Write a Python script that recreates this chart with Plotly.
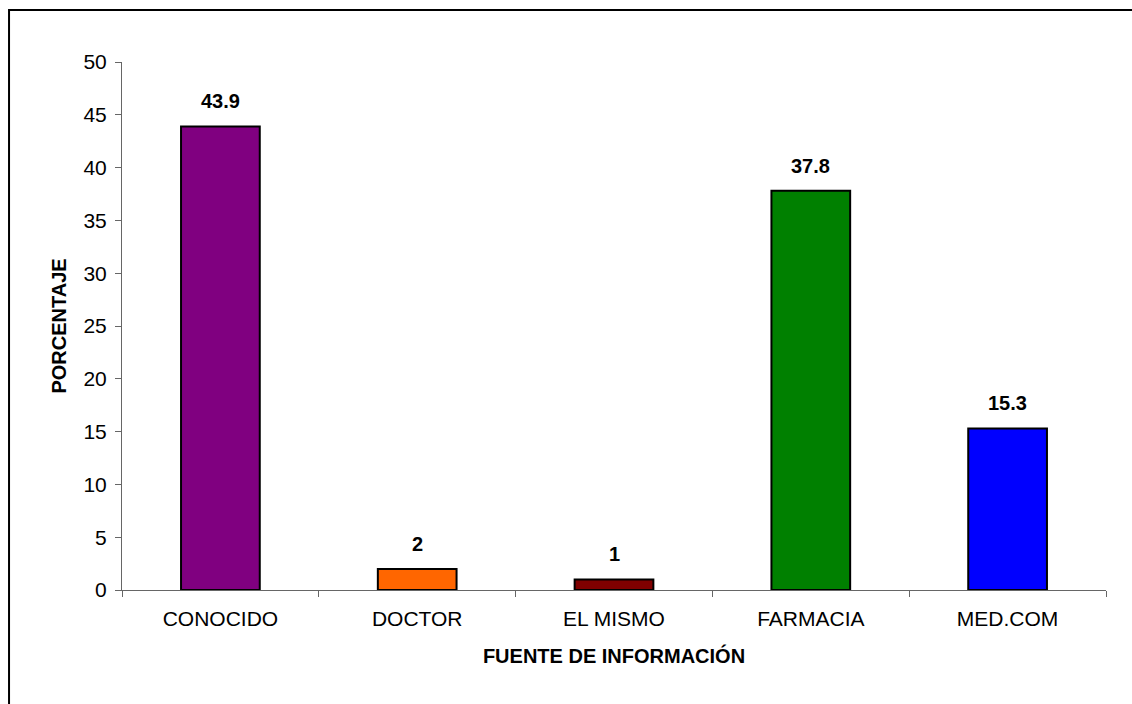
import plotly.graph_objects as go

# Information sources and their share (%)
categorias = ["CONOCIDO", "DOCTOR", "EL MISMO", "FARMACIA", "MED.COM"]
porcentajes = [43.9, 2, 1, 37.8, 15.3]
colores = ["#800080", "#FF6600", "#800000", "#008000", "#0000FF"]
y_ticks = [0, 5, 10, 15, 20, 25, 30, 35, 40, 45, 50]

FONT = "Liberation Sans, Arial, sans-serif"
FS = 21

fig = go.Figure(
    go.Bar(
        x=categorias,
        y=porcentajes,
        marker=dict(color=colores, line=dict(color="black", width=2)),
        width=0.40,
        hoverinfo="x+y",
    )
)

# Value labels above each bar
for cat, val in zip(categorias, porcentajes):
    fig.add_annotation(
        x=cat, y=val, text=f"<b>{val:g}</b>", showarrow=False,
        yanchor="bottom", yshift=12,
        font=dict(family=FONT, size=FS - 1, color="black"),
    )

# Outer chart frame
fig.add_shape(
    type="rect", xref="paper", yref="paper",
    x0=-0.1148, x1=1.04, y0=-0.24, y1=1.0985,
    line=dict(color="black", width=2), fillcolor="rgba(0,0,0,0)",
)

fig.update_layout(
    width=1132, height=704,
    margin=dict(l=122, r=26, t=62, b=114),
    plot_bgcolor="white", paper_bgcolor="white",
    showlegend=False,
    font=dict(family=FONT, size=FS, color="black"),
    xaxis=dict(
        type="category",
        tickson="boundaries",
        ticks="outside", ticklen=6, tickcolor="#666", tickwidth=1,
        showline=True, linecolor="#666", linewidth=1,
        showgrid=False,
        ticklabelstandoff=10,
        tickfont=dict(family=FONT, size=FS),
        title=dict(text="<b>FUENTE DE INFORMACIÓN</b>", font=dict(family=FONT, size=FS - 1), standoff=19),
    ),
    yaxis=dict(
        range=[0, 50],
        tickvals=y_ticks,
        ticks="outside", ticklen=6, tickcolor="#666", tickwidth=1,
        showline=True, linecolor="#666", linewidth=1,
        showgrid=False, zeroline=False,
        ticklabelstandoff=4,
        tickfont=dict(family=FONT, size=FS),
        title=dict(text="<b>PORCENTAJE</b>", font=dict(family=FONT, size=FS - 1), standoff=11),
    ),
)

fig.write_html("out.html")
